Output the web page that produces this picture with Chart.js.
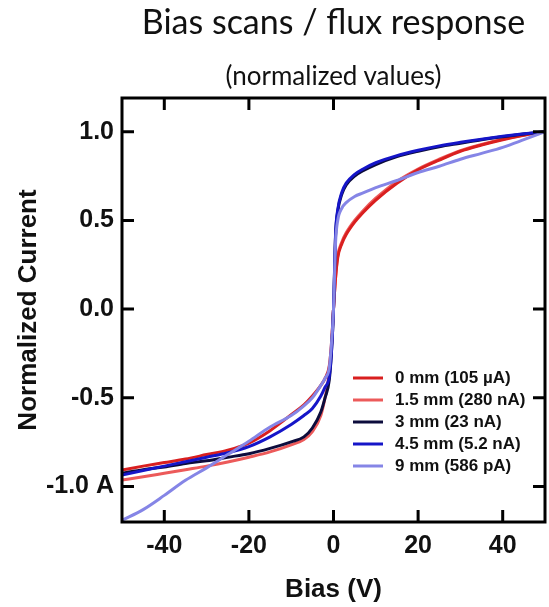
<!DOCTYPE html>
<html>
<head>
<meta charset="utf-8">
<script src="https://cdn.jsdelivr.net/npm/chart.js@4.4.1/dist/chart.umd.min.js"></script>
<style>
  body { margin: 0; background: #fff; }
  #wrap { position: relative; width: 549px; height: 607px; }
  .ttl { position: absolute; left: 122px; width: 423px; text-align: center;
         font-family: Lato, "Open Sans", sans-serif; color: #111; white-space: nowrap; }
  #title { top: 1px; font-size: 34px; line-height: 40px; }
  #subtitle { top: 60px; font-size: 26px; line-height: 30px; }
</style>
</head>
<body>
<div id="wrap">
  <canvas id="ivChart" width="549" height="607"></canvas>
  <div id="title" class="ttl">Bias scans / flux response</div>
  <div id="subtitle" class="ttl">(normalized values)</div>
</div>
<script>
// bias points (V)
const biasV = [-50, -45, -40, -35, -30, -25, -20, -15, -10, -7, -5, -3, -2, -1, -0.5, 0,
               0.5, 1, 2, 3, 5, 7, 10, 15, 20, 25, 30, 35, 40, 45, 50];

// normalized current per distance
const cur0mm   = [-0.907, -0.885, -0.865, -0.845, -0.82, -0.795, -0.755, -0.685, -0.595, -0.54, -0.49, -0.43, -0.39, -0.32, -0.2, 0,
                  0.18, 0.29, 0.37, 0.42, 0.49, 0.545, 0.615, 0.71, 0.785, 0.84, 0.89, 0.925, 0.955, 0.98, 1.0];
const cur1p5mm = [-0.963, -0.945, -0.925, -0.905, -0.885, -0.862, -0.835, -0.805, -0.765, -0.735, -0.69, -0.6, -0.5, -0.36, -0.22, 0,
                  0.18, 0.30, 0.38, 0.43, 0.50, 0.555, 0.625, 0.72, 0.79, 0.845, 0.893, 0.928, 0.957, 0.981, 1.0];
const cur3mm   = [-0.925, -0.905, -0.89, -0.87, -0.855, -0.835, -0.815, -0.785, -0.748, -0.72, -0.67, -0.58, -0.5, -0.4, -0.25, 0,
                  0.42, 0.55, 0.65, 0.70, 0.75, 0.78, 0.815, 0.86, 0.89, 0.915, 0.935, 0.955, 0.972, 0.987, 1.0];
const cur4p5mm = [-0.935, -0.91, -0.885, -0.86, -0.835, -0.81, -0.775, -0.72, -0.65, -0.6, -0.56, -0.49, -0.44, -0.38, -0.25, 0,
                  0.43, 0.56, 0.66, 0.71, 0.76, 0.79, 0.825, 0.865, 0.895, 0.92, 0.94, 0.958, 0.974, 0.988, 1.0];
const cur9mm   = [-1.19, -1.13, -1.05, -0.965, -0.895, -0.82, -0.745, -0.665, -0.6, -0.545, -0.5, -0.43, -0.39, -0.33, -0.2, 0,
                  0.38, 0.5, 0.57, 0.60, 0.635, 0.655, 0.685, 0.725, 0.77, 0.805, 0.845, 0.878, 0.912, 0.955, 1.0];

const seriesLabels = ['0 mm (105 µA)', '1.5 mm (280 nA)', '3 mm (23 nA)', '4.5 mm (5.2 nA)', '9 mm (586 pA)'];

const xTicks = [-40, -20, 0, 20, 40];
const yTicks = [-1.0, -0.5, 0.0, 0.5, 1.0];
const yTickLabels = ['-1.0 A', '-0.5', '0.0', '0.5', '1.0'];

const boldFont = '"Liberation Sans", Arial, sans-serif';

function pts(vals) {
    return biasV.map((b, i) => ({ x: b, y: vals[i] }));
}

// frame with inward ticks on all four sides
const frameTicks = {
    id: 'frameTicks',
    afterDraw(chart) {
        const { ctx, chartArea: a, scales: { x, y } } = chart;
        ctx.save();
        ctx.strokeStyle = '#000';
        ctx.lineWidth = 3;
        ctx.beginPath();
        x.ticks.forEach(t => {
            const px = x.getPixelForValue(t.value);
            ctx.moveTo(px, a.top); ctx.lineTo(px, a.top + 12);
            ctx.moveTo(px, a.bottom); ctx.lineTo(px, a.bottom - 12);
        });
        y.ticks.forEach(t => {
            const py = y.getPixelForValue(t.value);
            ctx.moveTo(a.left, py); ctx.lineTo(a.left + 12, py);
            ctx.moveTo(a.right, py); ctx.lineTo(a.right - 12, py);
        });
        ctx.stroke();
        ctx.strokeRect(a.left, a.top, a.right - a.left, a.bottom - a.top);
        ctx.restore();
    }
};

// legend inside the plot, lower right
const insideLegend = {
    id: 'insideLegend',
    afterDraw(chart) {
        const { ctx, chartArea: a } = chart;
        ctx.save();
        ctx.font = 'bold 17px ' + boldFont;
        ctx.textBaseline = 'middle';
        chart.data.datasets.forEach((ds, i) => {
            const yy = a.top + 280 + i * 22;
            ctx.strokeStyle = ds.borderColor;
            ctx.lineWidth = 3;
            ctx.beginPath();
            ctx.moveTo(a.left + 231, yy);
            ctx.lineTo(a.left + 261, yy);
            ctx.stroke();
            ctx.fillStyle = '#111';
            ctx.fillText(ds.label, a.left + 273, yy);
        });
        ctx.restore();
    }
};

const colors = ['#d91f1f', '#ec5a5a', '#0c0c3c', '#1515c8', '#8585e6'];
const seriesData = [cur0mm, cur1p5mm, cur3mm, cur4p5mm, cur9mm];
const drawOrder = [4, 5, 3, 2, 1];

new Chart(document.getElementById('ivChart'), {
    type: 'line',
    data: {
        datasets: seriesData.map((vals, i) => ({
            label: seriesLabels[i],
            data: pts(vals),
            borderColor: colors[i],
            borderWidth: 3,
            pointRadius: 0,
            cubicInterpolationMode: 'monotone',
            order: drawOrder[i]
        }))
    },
    options: {
        responsive: false,
        animation: false,
        layout: { padding: { top: 98, right: 4, bottom: 0, left: 0 } },
        plugins: {
            legend: { display: false },
            tooltip: { enabled: false }
        },
        scales: {
            x: {
                type: 'linear',
                min: -50,
                max: 50,
                afterBuildTicks: s => { s.ticks = xTicks.map(v => ({ value: v })); },
                afterFit: s => { s.height = 85; },
                grid: { display: false, drawTicks: false },
                border: { display: false },
                ticks: { color: '#111', padding: 9, font: { family: boldFont, size: 25, weight: 'bold' } },
                title: {
                    display: true,
                    text: 'Bias (V)',
                    color: '#111',
                    font: { family: boldFont, size: 26, weight: 'bold' },
                    padding: { top: 0, bottom: 2 }
                }
            },
            y: {
                type: 'linear',
                min: -1.2,
                max: 1.19,
                afterBuildTicks: s => { s.ticks = yTicks.map(v => ({ value: v })); },
                afterFit: s => { s.width = 122; },
                grid: { display: false, drawTicks: false },
                border: { display: false },
                ticks: {
                    color: '#111',
                    padding: 8,
                    font: { family: boldFont, size: 25, weight: 'bold' },
                    callback: v => yTickLabels[yTicks.indexOf(v)]
                },
                title: {
                    display: true,
                    text: 'Normalized Current',
                    color: '#111',
                    font: { family: boldFont, size: 26, weight: 'bold' },
                    padding: { top: 13, bottom: 0 }
                }
            }
        }
    },
    plugins: [frameTicks, insideLegend]
});
</script>
</body>
</html>
